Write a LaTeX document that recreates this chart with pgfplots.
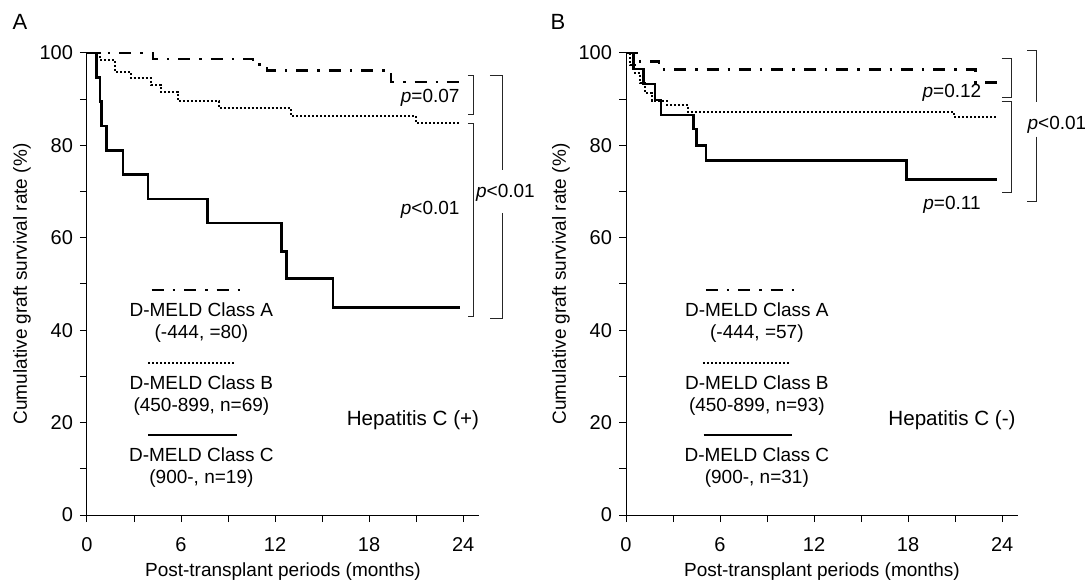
\documentclass[border=0pt]{standalone}
\usepackage{fontspec}
\setmainfont{Liberation Sans}
\usepackage{pgfplots}
\pgfplotsset{compat=1.18}

\pgfplotsset{km/.style={
  scale only axis, width=195.9pt, height=231pt,
  xmin=0, xmax=25, ymin=0, ymax=100,
  axis lines=left, axis line style={-, line width=0.5pt},
  tick align=outside, major tick length=3.5pt, minor tick length=3.5pt,
  xtick={0,6,...,24}, minor xtick={3,9,15,21},
  ytick={0,20,...,100}, minor ytick={10,30,...,90},
  tick style={black, line width=0.5pt},
  tick label style={font=\fontsize{10}{12}\selectfont},
  xticklabel style={yshift=-4pt},
  /pgf/number format/assume math mode=true,
  label style={font=\fontsize{9.5}{11}\selectfont},
  xlabel={Post-transplant periods (months)},
  ylabel={Cumulative graft survival rate (\%)},
  xlabel style={at={(axis description cs:0.5,0)}, anchor=center, yshift=-28.5pt},
  ylabel style={at={(axis description cs:-0.166,0.5)}, anchor=center},
  clip=false,
  every axis plot/.append style={const plot, no marks},
}}

\begin{document}
\begin{tikzpicture}[
  classA/.style={black, line width=1.2pt, dash pattern=on 6pt off 4.5pt on 1.2pt off 4.5pt},
  classB/.style={black, line width=1pt, dash pattern=on 1pt off 1pt},
  classC/.style={black, line width=1.25pt},
  brk/.style={black!85, line width=0.5pt},
  txt/.style={font=\fontsize{9.5}{11}\selectfont, align=center},
  big/.style={font=\fontsize{10.3}{12}\selectfont},
]

% ---- panel A: hepatitis C positive
\begin{axis}[km, name=A, at={(0,0)}, anchor=south west]
\addplot[classA] coordinates {
  (0,100) (4.2,98.75) (10.6,97.5) (11.5,96.25) (19.4,93.75) (23.8,93.75)};
\addplot[classB] coordinates {
  (0,100) (0.83,98.5) (1.8,95.9) (2.8,94.5) (4.1,93.1) (4.7,91.6)
  (5.8,89.6) (8.45,88.0) (13.0,86.4) (21.0,84.9) (23.8,84.9)};
\addplot[classC] coordinates {
  (0,100) (0.62,94.7) (0.83,89.5) (0.94,84.2) (1.25,78.9) (2.3,73.7)
  (3.9,68.4) (7.7,63.2) (12.42,57.0) (12.74,51.2) (15.7,44.9) (23.8,44.9)};
% legend
\draw[classA] (axis cs:4.13,48.7) -- (axis cs:9.76,48.7);
\node[txt] at (axis cs:7.3,41.7) {D-MELD Class A\\(-444, =80)};
\draw[classB] (axis cs:3.9,32.8) -- (axis cs:9.4,32.8);
\node[txt] at (axis cs:7.3,25.9) {D-MELD Class B\\(450-899, n=69)};
\draw[classC] (axis cs:3.9,17.3) -- (axis cs:9.6,17.3);
\node[txt] at (axis cs:7.3,10.2) {D-MELD Class C\\(900-, n=19)};
\node[big] at (axis cs:20.8,20.6) {Hepatitis C (+)};
% p values
\node[txt] at (axis cs:21.9,90.2) {\textit{p}=0.07};
\node[txt] at (axis cs:21.9,66) {\textit{p}<0.01};
\draw[brk] (axis cs:24.3,95.2) -| (axis cs:24.63,86.6) -- (axis cs:24.3,86.6);
\draw[brk] (axis cs:24.3,84.8) -| (axis cs:24.63,42.9) -- (axis cs:24.3,42.9);
\draw[brk] (axis cs:25.7,95.2) -| (axis cs:26.5,74.7);
\draw[brk] (axis cs:26.5,65.4) |- (axis cs:25.7,42.6);
\node[txt] at (axis cs:26.7,69.7) {\textit{p}<0.01};
\end{axis}

% ---- panel B: hepatitis C negative
\begin{axis}[km, name=B, at={(269.5pt,0)}, anchor=south west]
\addplot[classA] coordinates {
  (0,100) (0.9,98.2) (2.1,96.4) (22.3,93.6) (23.7,93.6)};
\addplot[classB] coordinates {
  (0,100) (0.26,97.4) (0.57,95.6) (0.89,93.4) (1.2,91.3) (1.64,89.6)
  (2.6,88.7) (3.97,87.3) (20.9,86.2) (23.7,86.2)};
\addplot[classC] coordinates {
  (0,100) (0.47,96.5) (1.1,93.3) (1.85,89.8) (2.23,86.6) (4.3,83.6)
  (4.5,80.0) (5.1,76.7) (17.9,72.6) (23.7,72.6)};
% legend
\draw[classA] (axis cs:5.1,48.7) -- (axis cs:10.8,48.7);
\node[txt] at (axis cs:8.35,41.6) {D-MELD Class A\\(-444, =57)};
\draw[classB] (axis cs:4.9,33.0) -- (axis cs:10.4,33.0);
\node[txt] at (axis cs:8.35,25.9) {D-MELD Class B\\(450-899, n=93)};
\draw[classC] (axis cs:4.95,17.3) -- (axis cs:10.6,17.3);
\node[txt] at (axis cs:8.35,10.2) {D-MELD Class C\\(900-, n=31)};
\node[big] at (axis cs:20.8,20.6) {Hepatitis C (-)};
% p values
\node[txt] at (axis cs:20.8,91.3) {\textit{p}=0.12};
\node[txt] at (axis cs:20.8,67.1) {\textit{p}=0.11};
\draw[brk] (axis cs:23.97,98.9) -| (axis cs:24.6,90.3) -- (axis cs:23.97,90.3);
\draw[brk] (axis cs:23.97,89.5) -| (axis cs:24.6,69.7) -- (axis cs:23.97,69.7);
\draw[brk] (axis cs:25.6,100.6) -| (axis cs:26.2,89.5);
\draw[brk] (axis cs:26.2,81.9) |- (axis cs:25.6,67.8);
\node[txt, anchor=west, inner sep=0pt] at (axis cs:25.6,84.4) {\textit{p}<0.01};
\end{axis}

\node[font=\fontsize{11}{13}\selectfont] at (-33.5pt,246.5pt) {A};
\node[font=\fontsize{11}{13}\selectfont] at (235.5pt,246.5pt) {B};

\pgfresetboundingbox
\useasboundingbox (-43.5pt,-34pt) rectangle (499pt,257.5pt);
\end{tikzpicture}
\end{document}
